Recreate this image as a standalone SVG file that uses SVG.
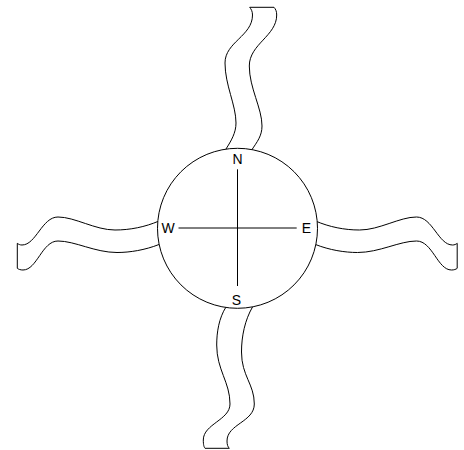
<svg xmlns="http://www.w3.org/2000/svg" width="464" height="450" viewBox="0 0 464 450">
<style>
.r{fill:none;stroke:#000;stroke-width:1}
.c{fill:#fff;stroke:#000;stroke-width:1}
.l{stroke:#000;stroke-width:1}
.t{font-family:"Liberation Sans",Arial,sans-serif;font-size:14px;fill:#000;text-anchor:middle}
</style>
<g id="ribbon-north">
<path class="r" d="M226,149 C231,141 236,133 236,123 C236,105 225,85 225,63 C225,42 252.5,36 252.5,15 C252.5,11 251,9 249.7,7.3"/>
<path class="r" d="M251.7,150 C257,142 262,136 262,126 C262,108 249.3,88 249.3,66 C249.3,44 276.7,36 276.7,15 C276.7,11 275.5,9 274,7.3"/>
<path class="r" d="M249.7,7.3 L274,7.3"/>
</g>
<g id="ribbon-south">
<path class="r" d="M226,307 C219,318 216.7,332 216.7,345 C216.7,370 230,382 230,404 C230,420 203.3,424 203.3,440 C203.3,445 204,447 205,448.3"/>
<path class="r" d="M252.5,307 C245,320 241.5,336 241.5,352 C241.5,376 254.3,384 254.3,404 C254.3,422 227,424 227,441 C227,445 228,447 229.3,448.3"/>
<path class="r" d="M205,448.3 L229.3,448.3"/>
</g>
<g id="ribbon-west">
<path class="r" d="M159,221 C145,227 130,230 115,230 C95,230 75,217 58,217 C42,217 36,245 22,245 C20,245 18.5,244.3 17.3,243.3"/>
<path class="r" d="M159,244.5 C145,250 130,252.5 117,252.5 C95,252.5 75,241 58,241 C42,241 37,270 23,270 C20.5,270 18.5,269.3 17.3,268.3"/>
<path class="r" d="M17.3,243.3 L17.3,268.3"/>
</g>
<g id="ribbon-east" transform="matrix(-1 0 0 1 474.5 0)">
<path class="r" d="M159,221 C145,227 130,230 115,230 C95,230 75,217 58,217 C42,217 36,245 22,245 C20,245 18.5,244.3 17.3,243.3"/>
<path class="r" d="M159,244.5 C145,250 130,252.5 117,252.5 C95,252.5 75,241 58,241 C42,241 37,270 23,270 C20.5,270 18.5,269.3 17.3,268.3"/>
<path class="r" d="M17.3,243.3 L17.3,268.3"/>
</g>
<g id="compass">
<circle class="c" cx="237.5" cy="228.3" r="80"/>
<line class="l" x1="237.5" y1="169.3" x2="237.5" y2="286"/>
<line class="l" x1="178.5" y1="228" x2="296.7" y2="228"/>
<text class="t" x="237.5" y="164">N</text>
<text class="t" x="168" y="233">W</text>
<text class="t" x="306.5" y="233">E</text>
<text class="t" x="236.5" y="305">S</text>
</g>
</svg>
